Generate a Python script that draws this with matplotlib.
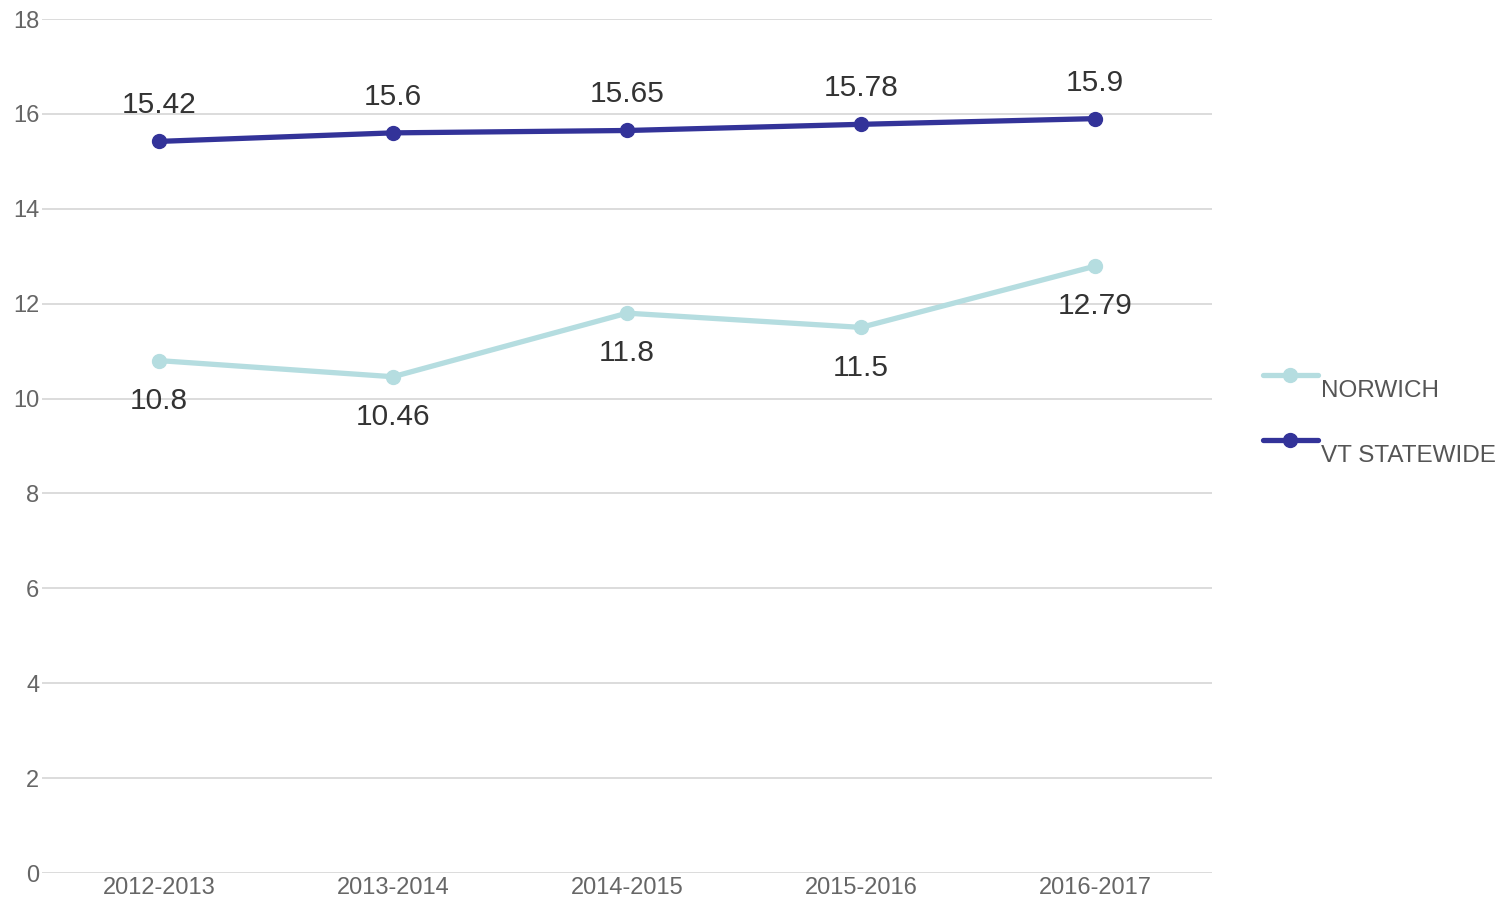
import matplotlib.pyplot as plt
from matplotlib.lines import Line2D

plt.rcParams['font.family'] = ['Liberation Sans', 'DejaVu Sans']

years = ['2012-2013', '2013-2014', '2014-2015', '2015-2016', '2016-2017']
norwich = [10.8, 10.46, 11.8, 11.5, 12.79]
statewide = [15.42, 15.6, 15.65, 15.78, 15.9]

c_norwich = '#b5dde0'
c_state = '#333399'

fig = plt.figure(figsize=(15.11, 9), dpi=100)
ax = fig.add_axes([42 / 1511, 1 - 873 / 900, (1212 - 42) / 1511, (873 - 19) / 900])

x = list(range(len(years)))
ax.plot(x, norwich, color=c_norwich, lw=3.8, marker='o', ms=10, zorder=3)
ax.plot(x, statewide, color=c_state, lw=3.8, marker='o', ms=10, zorder=3)

for xi, v in zip(x, norwich):
    ax.annotate(f'{v:g}', (xi, v), xytext=(0, -29), textcoords='offset points',
                ha='center', va='center', fontsize=21.5, color='#333333')
for xi, v in zip(x, statewide):
    ax.annotate(f'{v:g}', (xi, v), xytext=(0, 26), textcoords='offset points',
                ha='center', va='center', fontsize=21.5, color='#333333')

ax.set_xlim(-0.5, len(years) - 0.5)
ax.set_ylim(0, 18)
ax.set_yticks(range(0, 19, 2))
ax.set_xticks(x)
ax.set_xticklabels(years)
ax.grid(axis='y', color='#d9d9d9', lw=1.3)
ax.set_axisbelow(True)
for s in ax.spines.values():
    s.set_visible(False)
ax.tick_params(length=0, labelsize=17, colors='#666666')
ax.tick_params(axis='y', pad=2)
ax.tick_params(axis='x', pad=3)

# legend
for y_line, label, col in [(375, 'NORWICH', c_norwich), (440, 'VT STATEWIDE', c_state)]:
    yf = 1 - y_line / 900
    fig.add_artist(Line2D([1263 / 1511, 1318 / 1511], [yf, yf], color=col, lw=3.8,
                          solid_capstyle='round', transform=fig.transFigure))
    fig.add_artist(Line2D([1290 / 1511], [yf], color=col, marker='o', ms=10,
                          transform=fig.transFigure))
    fig.text(1321 / 1511, 1 - (y_line + 16) / 900, label, fontsize=17.5,
             color='#555555', ha='left', va='center')

fig.savefig('out.png', dpi=100)
